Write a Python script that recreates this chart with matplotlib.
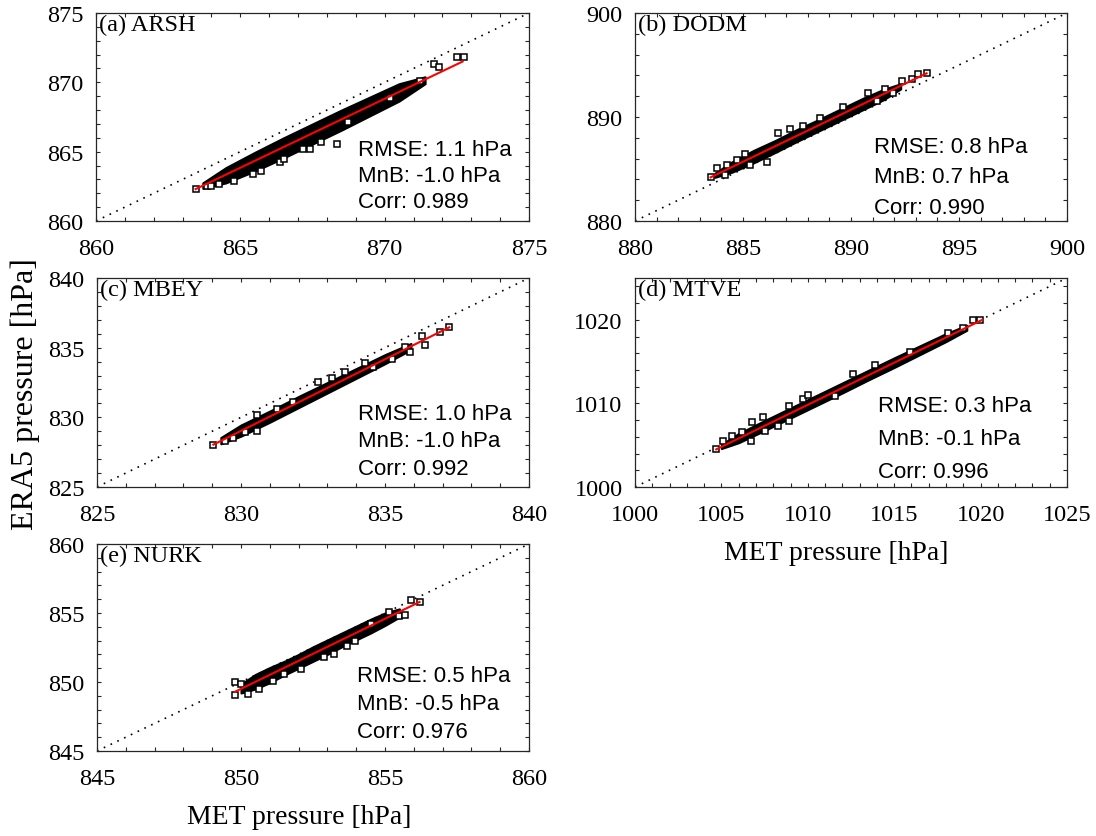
import matplotlib
matplotlib.use('Agg')
import matplotlib.pyplot as plt
from matplotlib.ticker import MultipleLocator

plt.rcParams['font.family'] = ['Liberation Serif', 'DejaVu Serif']

# ---- values ----
names = ['(a) ARSH', '(b) DODM', '(c) MBEY', '(d) MTVE', '(e) NURK']
rmse = [1.1, 0.8, 1.0, 0.3, 0.5]
mnb = [-1.0, 0.7, -1.0, -0.1, -0.5]
corr = [0.989, 0.990, 0.992, 0.996, 0.976]

# dense part of each point cloud: x, lower and upper edge
arsh_x = [863.7, 864.5, 865.5, 866.5, 867.5, 868.5, 869.5, 870.5, 871.4]
arsh_lo = [862.35, 862.75, 863.6, 864.55, 865.55, 866.55, 867.6, 868.65, 869.9]
arsh_hi = [862.75, 863.85, 864.95, 866.0, 867.0, 868.0, 868.95, 869.9, 870.4]
# isolated points
arsh_px = [863.45, 863.86, 863.98, 864.27, 864.79, 865.43, 865.72, 866.36, 866.53, 867.17,
           867.41, 867.81, 868.34, 868.74, 870.2, 871.24, 871.71, 871.88, 872.52, 872.76]
arsh_py = [862.31, 862.55, 862.55, 862.67, 862.91, 863.39, 863.63, 864.23, 864.47, 865.19,
           865.19, 865.72, 865.55, 867.11, 868.84, 870.12, 871.32, 871.08, 871.8, 871.86]
arsh_fx = [863.45, 872.7]
arsh_fy = [862.3, 871.5]

dodm_x = [883.7, 884.5, 885.5, 886.5, 887.5, 888.5, 889.5, 890.5, 891.5, 892.3]
dodm_lo = [884.2, 884.7, 885.6, 886.6, 887.65, 888.65, 889.65, 890.65, 891.65, 892.7]
dodm_hi = [884.6, 885.7, 886.8, 887.75, 888.8, 889.75, 890.75, 891.75, 892.65, 893.2]
dodm_px = [883.5, 883.78, 884.17, 884.27, 884.71, 885.09, 885.32, 886.1, 886.64, 887.18,
           887.79, 888.56, 889.65, 890.8, 891.19, 891.57, 891.96, 892.35, 892.81, 893.12, 893.53]
dodm_py = [884.2, 885.06, 884.42, 885.42, 885.87, 886.44, 885.38, 885.7, 888.43, 888.85,
           889.17, 889.87, 890.93, 892.27, 891.57, 892.69, 892.31, 893.49, 893.65, 894.13, 894.23]
dodm_fx = [883.5, 893.5]
dodm_fy = [884.2, 894.2]

mbey_x = [829.3, 830.0, 831.0, 832.0, 833.0, 834.0, 835.0, 835.9]
mbey_lo = [828.1, 828.65, 829.65, 830.7, 831.75, 832.8, 833.85, 834.85]
mbey_hi = [828.55, 829.45, 830.45, 831.5, 832.5, 833.5, 834.5, 835.3]
mbey_px = [829.04, 829.44, 829.73, 830.14, 830.54, 830.54, 831.24, 831.82, 832.68, 833.15,
           833.61, 834.31, 834.59, 835.23, 835.69, 835.87, 836.27, 836.39, 836.91, 837.23]
mbey_py = [828.04, 828.33, 828.49, 828.92, 829.04, 830.17, 830.6, 831.08, 832.51, 832.8,
           833.23, 833.9, 833.59, 834.19, 835.03, 834.67, 835.82, 835.19, 836.1, 836.46]
mbey_fx = [829.04, 837.23]
mbey_fy = [828.04, 836.46]

mtve_x = [1005.0, 1006.0, 1007.5, 1009.0, 1010.5, 1012.0, 1013.5, 1015.0, 1016.5, 1018.0, 1019.2]
mtve_lo = [1004.6, 1005.3, 1006.75, 1008.25, 1009.75, 1011.25, 1012.8, 1014.3, 1015.85, 1017.4, 1018.75]
mtve_hi = [1005.1, 1006.4, 1007.95, 1009.45, 1010.95, 1012.45, 1013.95, 1015.45, 1016.9, 1018.35, 1019.35]
mtve_px = [1004.69, 1005.07, 1005.6, 1006.17, 1006.69, 1006.75, 1007.43, 1007.52, 1008.29, 1008.93,
           1008.93, 1009.74, 1010.03, 1011.57, 1012.63, 1013.89, 1015.91, 1018.13, 1019.0, 1019.58, 1019.97]
mtve_py = [1004.55, 1005.46, 1006.14, 1006.54, 1005.54, 1007.73, 1008.33, 1006.74, 1007.34, 1007.93,
           1009.73, 1010.53, 1011.0, 1010.92, 1013.52, 1014.59, 1016.11, 1018.42, 1018.98, 1020.02, 1020.02]
mtve_fx = [1004.7, 1020.1]
mtve_fy = [1004.5, 1020.0]

nurk_x = [850.0, 850.5, 851.0, 851.5, 852.0, 852.5, 853.0, 853.5, 854.0, 854.5, 855.0, 855.5]
nurk_lo = [849.2, 849.5, 849.95, 850.5, 851.0, 851.5, 852.0, 852.55, 853.05, 853.55, 854.1, 854.7]
nurk_hi = [849.85, 850.55, 851.05, 851.5, 852.0, 852.55, 853.05, 853.55, 854.05, 854.55, 855.0, 855.3]
nurk_px = [849.8, 849.8, 849.99, 850.26, 850.62, 851.11, 851.48, 852.09, 852.88, 853.24,
           853.67, 853.97, 854.52, 855.13, 855.49, 855.68, 855.92, 856.22]
nurk_py = [850.02, 849.06, 849.86, 849.13, 849.49, 850.1, 850.58, 850.94, 851.79, 852.03,
           852.63, 852.99, 854.2, 855.1, 854.76, 854.86, 855.97, 855.77]
nurk_fx = [849.8, 856.2]
nurk_fy = [849.3, 855.8]

limits = [(860, 875), (880, 900), (825, 840), (1000, 1025), (845, 860)]
y_major = [5, 10, 5, 10, 5]
y_minor = [1, 2, 1, 2, 1]

clouds = [
    (arsh_x, arsh_lo, arsh_hi, arsh_px, arsh_py, arsh_fx, arsh_fy),
    (dodm_x, dodm_lo, dodm_hi, dodm_px, dodm_py, dodm_fx, dodm_fy),
    (mbey_x, mbey_lo, mbey_hi, mbey_px, mbey_py, mbey_fx, mbey_fy),
    (mtve_x, mtve_lo, mtve_hi, mtve_px, mtve_py, mtve_fx, mtve_fy),
    (nurk_x, nurk_lo, nurk_hi, nurk_px, nurk_py, nurk_fx, nurk_fy),
]

# ---- layout in pixels (left, right, top, bottom) ----
W, H = 1096, 837
boxes = [(96, 529, 14, 222), (635, 1067, 14, 222),
         (97, 529, 279, 488), (635, 1067, 279, 488),
         (97, 529, 545, 752)]
stat_pos = [(0.605, 0.346, 0.125), (0.553, 0.36, 0.147), (0.605, 0.354, 0.133),
            (0.5625, 0.389, 0.158), (0.602, 0.364, 0.136)]

fig = plt.figure(figsize=(W / 100, H / 100), dpi=100)
frame_col = '#262626'

for i in range(5):
    l, r, t, b = boxes[i]
    ax = fig.add_axes([l / W, 1 - b / H, (r - l) / W, (b - t) / H])
    lo_lim, hi_lim = limits[i]
    cx, clo, chi, px, py, fx, fy = clouds[i]

    ax.plot([lo_lim, hi_lim], [lo_lim, hi_lim], color='black', lw=1.2,
            linestyle=(0, (1, 3.5)), zorder=1)
    ax.fill_between(cx, clo, chi, facecolor='black', edgecolor='black', lw=1.5, zorder=2)
    ax.plot(px, py, 's', ms=4.3, mfc='white', mec='black', mew=1.1, zorder=3)
    ax.plot(fx, fy, color='#ff0000', lw=1.5, zorder=4)

    ax.set_xlim(lo_lim, hi_lim)
    ax.set_ylim(lo_lim, hi_lim)
    ax.xaxis.set_major_locator(MultipleLocator(5))
    ax.xaxis.set_minor_locator(MultipleLocator(1))
    ax.yaxis.set_major_locator(MultipleLocator(y_major[i]))
    ax.yaxis.set_minor_locator(MultipleLocator(y_minor[i]))
    ax.tick_params(which='both', direction='in', top=True, right=True,
                   length=3, width=0.8, color=frame_col)
    ax.tick_params(axis='x', which='major', labelsize=17.5, pad=12)
    ax.tick_params(axis='y', which='major', labelsize=17.5, pad=9)
    for sp in ax.spines.values():
        sp.set_color(frame_col)
        sp.set_linewidth(0.9)

    ax.text(0.006, 0.995, names[i], transform=ax.transAxes, ha='left', va='top',
            fontsize=17.5)
    sx, sy, dy = stat_pos[i]
    stats = ['RMSE: %.1f hPa' % rmse[i], 'MnB: %.1f hPa' % mnb[i], 'Corr: %.3f' % corr[i]]
    for k, s in enumerate(stats):
        ax.text(sx, sy - k * dy, s, transform=ax.transAxes, ha='left', va='center',
                fontsize=16, family=['Liberation Sans', 'DejaVu Sans'])

fig.text(25 / W, 1 - 394 / H, 'ERA5 pressure [hPa]', rotation=90, ha='center',
         va='center', fontsize=23)
fig.text(836 / W, 1 - 553 / H, 'MET pressure [hPa]', ha='center', va='center', fontsize=20)
fig.text(299 / W, 1 - 818 / H, 'MET pressure [hPa]', ha='center', va='center', fontsize=20)

fig.savefig('out.png', dpi=100)
